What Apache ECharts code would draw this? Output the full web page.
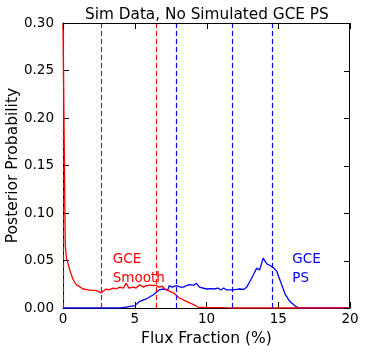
<!DOCTYPE html>
<html><head><meta charset="utf-8">
<script src="https://cdn.jsdelivr.net/npm/echarts@6/dist/echarts.min.js"></script>
<style>html,body{margin:0;padding:0;background:#fff}#c{width:365px;height:353px}</style>
</head><body><div id="c"></div>
<script>
var titleText = "Sim Data, No Simulated GCE PS";
var xName = "Flux Fraction (%)";
var yName = "Posterior Probability";

var smoothX = [0, 0.12, 0.16, 0.25, 0.35, 0.47, 0.7, 0.93, 1.4, 1.86, 2.3, 2.67, 3.0, 3.2, 3.5, 3.7, 3.95, 4.2, 4.4, 4.6, 4.9, 5.1, 5.35, 5.6, 5.8, 6.1, 6.3, 6.5, 6.7, 6.9, 7.2, 7.7, 8.1, 8.6, 9.1, 9.4, 10, 11, 11.3, 12, 20];
var smoothY = [0.30, 0.12, 0.065, 0.052, 0.047, 0.040, 0.030, 0.0246, 0.020, 0.0187, 0.0185, 0.016, 0.020, 0.019, 0.021, 0.020, 0.022, 0.021, 0.026, 0.021, 0.022, 0.021, 0.0245, 0.022, 0.0235, 0.024, 0.0235, 0.024, 0.022, 0.023, 0.019, 0.016, 0.0105, 0.007, 0.0035, 0.001, 0.0005, 0.0005, 0.0003, 0, 0];

var psX = [0, 4.0, 4.4, 5.0, 5.35, 5.8, 6.3, 6.7, 7.0, 7.3, 7.4, 7.6, 7.9, 8.2, 8.4, 8.6, 8.8, 9.1, 9.3, 9.5, 10, 10.3, 10.5, 10.8, 11, 11.2, 11.4, 11.8, 12.1, 12.3, 12.6, 12.8, 13.1, 13.3, 13.5, 13.7, 13.95, 14.2, 14.4, 14.7, 14.9, 15.2, 15.5, 15.8, 16.2, 16.5, 20];
var psY = [0, 0, 0.001, 0.0025, 0.007, 0.0095, 0.014, 0.019, 0.020, 0.019, 0.0235, 0.022, 0.0235, 0.022, 0.022, 0.0235, 0.0245, 0.024, 0.026, 0.022, 0.020, 0.0205, 0.020, 0.021, 0.019, 0.021, 0.019, 0.019, 0.0195, 0.020, 0.0195, 0.022, 0.030, 0.036, 0.042, 0.040, 0.0525, 0.0465, 0.045, 0.042, 0.0385, 0.026, 0.014, 0.007, 0.0018, 0, 0];

var smoothDashes = [0, 2.7, 6.5];
var psDashes = [7.9, 11.8, 14.6];
var xTicks = [0, 5, 10, 15, 20];
var yTicks = [0, 0.05, 0.10, 0.15, 0.20, 0.25, 0.30];

function pairs(xs, ys){ return xs.map(function(x,i){ return [x, ys[i]]; }); }
var font = "DejaVu Sans";
var chart = echarts.init(document.getElementById('c'), null, {renderer:'canvas'});
var xMin = xTicks[0], xMax = xTicks[xTicks.length-1], yMin = yTicks[0], yMax = yTicks[yTicks.length-1];
chart.setOption({
  animation:false,
  backgroundColor:'#fff',
  title:{text:titleText, left:80, top:3, textStyle:{fontFamily:font, fontSize:15.3, fontWeight:'normal', color:'#000'}},
  grid:{left:63, right:15, top:23, bottom:45, outerBoundsMode:'none'},
  xAxis:[{type:'value', min:xMin, max:xMax, interval:5,
    name:xName, nameLocation:'middle', nameGap:20, nameTextStyle:{fontFamily:font, fontSize:15.5, color:'#000'},
    axisLine:{show:true, onZero:false, lineStyle:{color:'#000', width:1}}, axisTick:{show:true, inside:true, length:6, lineStyle:{color:'#000'}},
    axisLabel:{fontFamily:font, fontSize:13.5, color:'#000', margin:4, showMaxLabel:true, showMinLabel:true}, splitLine:{show:false}}],
  yAxis:[{type:'value', min:yMin, max:yMax, interval:0.05,
    name:yName, nameLocation:'middle', nameGap:42, nameMoveOverlap:false, nameTextStyle:{fontFamily:font, fontSize:15.5, color:'#000'},
    axisLine:{show:true, onZero:false, lineStyle:{color:'#000'}}, axisTick:{show:true, inside:true, length:6, lineStyle:{color:'#000'}},
    axisLabel:{fontFamily:font, fontSize:13.5, color:'#000', margin:9, formatter:function(v){return v.toFixed(2);}}, splitLine:{show:false}}],
  series:[
    {type:'line', name:'PS', data:pairs(psX, psY), symbol:'none', lineStyle:{color:'#0000ff', width:1.3}, z:2,
     markLine:{silent:true, symbol:'none', label:{show:false}, lineStyle:{color:'#0000ff', type:[5,3], width:1.2},
       data:psDashes.map(function(v){return {xAxis:v};})},
     markPoint:{symbol:'circle', symbolSize:0, data:[{coord:[15.98, 0.041], value:'x'}],
       label:{show:true, position:'right', distance:0, formatter:'GCE\nPS', color:'#0000ff', fontFamily:font, fontSize:13.5, lineHeight:18.8, align:'left'}}},
    {type:'line', name:'Smooth', data:pairs(smoothX, smoothY), symbol:'none', lineStyle:{color:'#ff0000', width:1.3}, z:3,
     markLine:{silent:true, symbol:'none', label:{show:false}, lineStyle:{color:'#ff0000', type:[5,3], width:1.2},
       data:smoothDashes.map(function(v){return {xAxis:v};})},
     markPoint:{symbol:'circle', symbolSize:0, data:[{coord:[3.47, 0.041], value:'x'}],
       label:{show:true, position:'right', distance:0, formatter:'GCE\nSmooth', color:'#ff0000', fontFamily:font, fontSize:13.5, lineHeight:18.8, align:'left'}}}
  ]
});

// Frame on top and right sides, with inward ticks, placed through the axes' own scales
function px(x, y){ return chart.convertToPixel({xAxisIndex:0, yAxisIndex:0}, [x, y]); }
var tl = px(xMin, yMax), br = px(xMax, yMin);
var frame = [];
frame.push({type:'line', shape:{x1:tl[0], y1:Math.round(tl[1])+0.5, x2:br[0], y2:Math.round(tl[1])+0.5}, style:{stroke:'#000', lineWidth:1}, z:100});
frame.push({type:'line', shape:{x1:Math.round(br[0])-0.5, y1:tl[1], x2:Math.round(br[0])-0.5, y2:br[1]}, style:{stroke:'#000', lineWidth:1}, z:100});
xTicks.forEach(function(t){
  var p = px(t, yMax); var xx = Math.round(p[0]) + 0.5;
  frame.push({type:'line', shape:{x1:xx, y1:p[1], x2:xx, y2:p[1]+6}, style:{stroke:'#000', lineWidth:1}, z:100});
});
yTicks.forEach(function(t){
  var p = px(xMax, t); var yy = Math.round(p[1]) + 0.5;
  frame.push({type:'line', shape:{x1:p[0], y1:yy, x2:p[0]-6, y2:yy}, style:{stroke:'#000', lineWidth:1}, z:100});
});
chart.setOption({graphic:{elements:frame}});
</script></body></html>
